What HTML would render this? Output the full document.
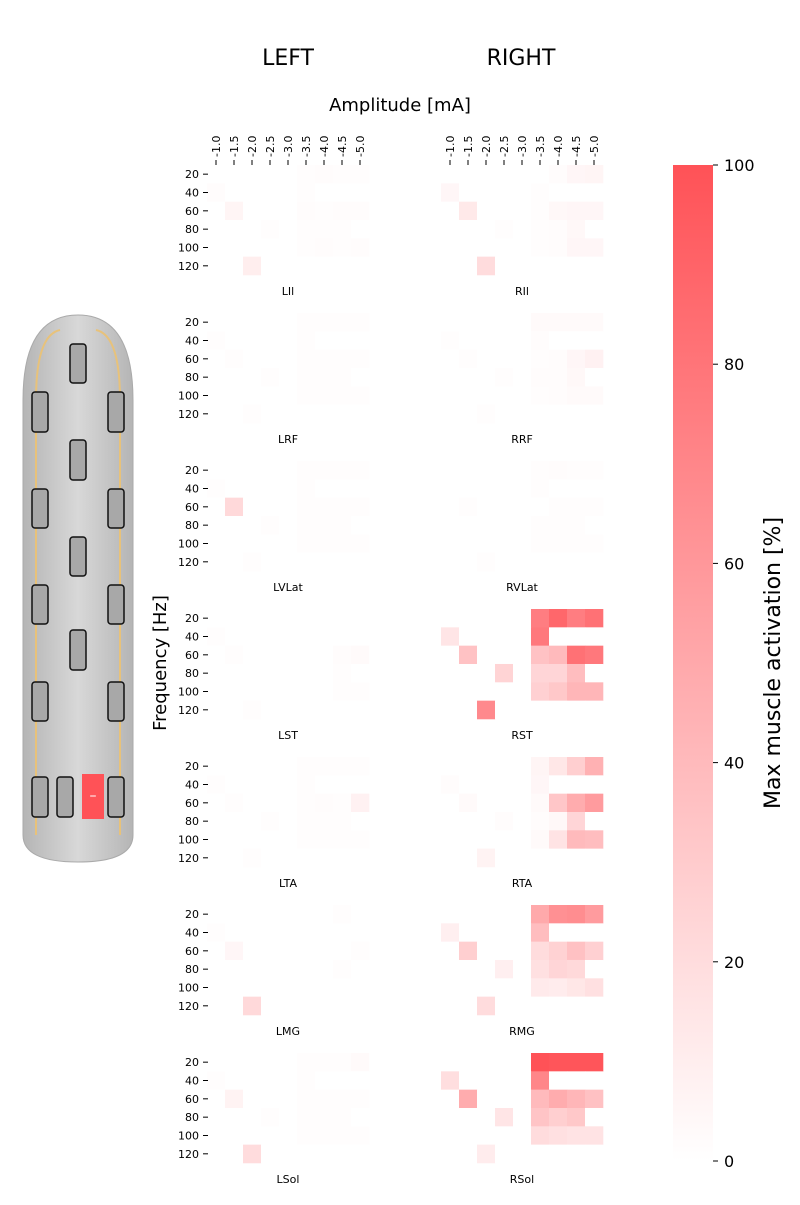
<!DOCTYPE html>
<html><head><meta charset="utf-8"><style>
body{margin:0;background:#fff;font-family:"Liberation Sans","DejaVu Sans",sans-serif;}
svg text{font-family:"DejaVu Sans","Liberation Sans",sans-serif;}
</style></head><body>
<svg id="fig" width="800" height="1200" viewBox="0 0 800 1200" xmlns="http://www.w3.org/2000/svg">
<defs>
<linearGradient id="cb" x1="0" y1="1" x2="0" y2="0"><stop offset="0" stop-color="#ffffff"/><stop offset="1" stop-color="#ff5257"/></linearGradient>
<linearGradient id="pad" x1="0" y1="0" x2="1" y2="0"><stop offset="0" stop-color="#b5b5b5"/><stop offset="0.5" stop-color="#d8d8d8"/><stop offset="1" stop-color="#b5b5b5"/></linearGradient>
</defs>
<text x="288" y="65" font-size="22" text-anchor="middle">LEFT</text>
<text x="521" y="65" font-size="22" text-anchor="middle">RIGHT</text>
<text x="400" y="111" font-size="18" text-anchor="middle">Amplitude [mA]</text>
<text transform="translate(166,663) rotate(-90)" font-size="18" text-anchor="middle">Frequency [Hz]</text>
<g id="electrode">
<path d="M23,400 Q23,315 78,315 Q133,315 133,400 L133,835 Q133,862 78,862 Q23,862 23,835 Z" fill="url(#pad)" stroke="#aaa"/>
<path d="M36,400 Q36,335 60,330 M120,400 Q120,335 96,330 M36,400 L36,835 M120,400 L120,835" stroke="#e8c27a" stroke-width="2" fill="none"/>
</g>
<g id="heatmaps"></g>
<g id="colorbar">
<rect x="673" y="165" width="40" height="996" fill="url(#cb)"/>
</g>
<text transform="translate(780,663) rotate(-90)" font-size="22" text-anchor="middle">Max muscle activation [%]</text>
</svg>
<script>
const amplitudes = ["-1.0","-1.5","-2.0","-2.5","-3.0","-3.5","-4.0","-4.5","-5.0"];
const frequencies = ["20","40","60","80","100","120"];
const colorbarTicks = [0,20,40,60,80,100];
const muscles = ["LIl","RIl","LRF","RRF","LVLat","RVLat","LST","RST","LTA","RTA","LMG","RMG","LSol","RSol"];
const LIl=[[0,0,0,0,0,1,2,1,1],[2,0,0,0,0,1,0,0,0],[0,6,0,0,0,2,1,2,2],[0,0,0,1,0,1,1,1,0],[0,0,0,0,0,1,2,1,2],[0,0,10,0,0,0,0,0,0]];
const RIl=[[0,0,0,0,0,0,2,5,6],[5,0,0,0,0,1,0,0,0],[0,13,0,0,0,1,4,5,5],[0,0,0,1,0,1,2,4,0],[0,0,0,0,0,1,2,5,5],[0,0,20,0,0,0,0,0,0]];
const LRF=[[0,0,0,0,0,1,1,1,1],[1,0,0,0,0,1,0,0,0],[0,1,0,0,0,1,1,1,1],[0,0,0,1,0,1,1,1,0],[0,0,0,0,0,1,1,1,1],[0,0,1,0,0,0,0,0,0]];
const RRF=[[0,0,0,0,0,3,3,3,3],[1,0,0,0,0,2,0,0,0],[0,1,0,0,0,1,2,5,8],[0,0,0,1,0,2,2,4,0],[0,0,0,0,0,1,2,3,3],[0,0,1,0,0,0,0,0,0]];
const LVLat=[[0,0,0,0,0,1,1,1,1],[1,0,0,0,0,1,0,0,0],[0,22,0,0,0,1,1,1,1],[0,0,0,1,0,1,1,1,0],[0,0,0,0,0,1,1,1,1],[0,0,1,0,0,0,0,0,0]];
const RVLat=[[0,0,0,0,0,1,2,1,1],[0,0,0,0,0,1,0,0,0],[0,1,0,0,0,0,1,1,1],[0,0,0,0,0,1,1,1,0],[0,0,0,0,0,1,1,1,1],[0,0,1,0,0,0,0,0,0]];
const LST=[[0,0,0,0,0,0,0,0,0],[1,0,0,0,0,0,0,0,0],[0,1,0,0,0,0,0,2,3],[0,0,0,0,0,0,0,1,0],[0,0,0,0,0,0,0,1,1],[0,0,1,0,0,0,0,0,0]];
const RST=[[0,0,0,0,0,75,88,75,82],[15,0,0,0,0,78,0,0,0],[0,35,0,0,0,35,40,82,78],[0,0,0,25,0,24,24,38,0],[0,0,0,0,0,27,32,42,42],[0,0,68,0,0,0,0,0,0]];
const LTA=[[0,0,0,0,0,1,1,1,1],[1,0,0,0,0,1,0,0,0],[0,1,0,0,0,1,2,1,8],[0,0,0,1,0,1,1,1,0],[0,0,0,0,0,1,1,1,1],[0,0,1,0,0,0,0,0,0]];
const RTA=[[0,0,0,0,0,6,14,28,45],[2,0,0,0,0,5,0,0,0],[0,3,0,0,0,3,33,48,58],[0,0,0,2,0,2,4,24,0],[0,0,0,0,0,3,16,40,38],[0,0,7,0,0,0,0,0,0]];
const LMG=[[0,0,0,0,0,0,0,1,0],[1,0,0,0,0,0,0,0,0],[0,5,0,0,0,0,0,0,1],[0,0,0,0,0,0,0,1,0],[0,0,0,0,0,0,0,0,0],[0,0,22,0,0,0,0,0,0]];
const RMG=[[0,0,0,0,0,50,64,66,58],[9,0,0,0,0,38,0,0,0],[0,28,0,0,0,20,26,36,27],[0,0,0,9,0,18,24,22,0],[0,0,0,0,0,12,11,14,18],[0,0,20,0,0,0,0,0,0]];
const LSol=[[0,0,0,0,0,1,1,1,3],[1,0,0,0,0,1,0,0,0],[0,7,0,0,0,1,1,1,1],[0,0,0,1,0,1,1,1,0],[0,0,0,0,0,1,1,1,1],[0,0,20,0,0,0,0,0,0]];
const RSol=[[0,0,0,0,0,100,98,98,98],[19,0,0,0,0,70,0,0,0],[0,48,0,0,0,40,48,42,36],[0,0,0,15,0,34,28,32,0],[0,0,0,0,0,20,18,16,16],[0,0,11,0,0,0,0,0,0]];
const dataSets=[LIl,RIl,LRF,RRF,LVLat,RVLat,LST,RST,LTA,RTA,LMG,RMG,LSol,RSol];

const NS="http://www.w3.org/2000/svg";
function mk(tag,attrs,parent){const e=document.createElementNS(NS,tag);for(const k in attrs)e.setAttribute(k,attrs[k]);parent.appendChild(e);return e;}
function color(v){const t=Math.max(0,Math.min(1,v/100));const r=255,g=Math.round(255-(255-82)*t),b=Math.round(255-(255-87)*t);return `rgb(${r},${g},${b})`;}
const cw=18, ch=18.33;
function xLeft(col){return col%2===0?207:441;}
function cellX(col,i){return xLeft(col)+i*cw;}
function cellY(row,j){return 165+row*148+j*ch;}
const root=document.getElementById('heatmaps');
dataSets.forEach((d,k)=>{
  const row=Math.floor(k/2), col=k%2;
  const g=mk('g',{},root);
  
  
  d.forEach((r,j)=>r.forEach((v,i)=>{
    const c=mk('rect',{x:cellX(col,i),y:cellY(row,j),width:cw+0.3,height:ch+0.3,fill:color(v)},g);
    
    
  }));
  const t=mk('text',{x:xLeft(col)+4.5*cw,y:165+row*148+130,'font-size':11,'text-anchor':'middle'},g);
  t.textContent=muscles[k];
  
  
  if(col===0){
    frequencies.forEach((f,j)=>{
      const y=cellY(row,j)+ch/2;
      mk('line',{x1:203,x2:208,y1:y,y2:y,stroke:'#000'},g);
      const tl=mk('text',{x:199,y:y+4,'font-size':11,'text-anchor':'end'},g);
      tl.textContent=f;
      
      
    });
  }
  if(row===0){
    amplitudes.forEach((a,i)=>{
      const x=cellX(col,i)+cw/2;
      mk('line',{x1:x,x2:x,y1:160,y2:165,stroke:'#000'},g);
      const tl=mk('text',{transform:`translate(${x+4},157) rotate(-90)`,'font-size':11},g);
      tl.textContent=a;
      
      
    });
  }
});
const cbg=document.getElementById('colorbar');
colorbarTicks.forEach(v=>{
  const y=1161-v/100*996;
  mk('line',{x1:713,x2:718,y1:y,y2:y,stroke:'#000'},cbg);
  const t=mk('text',{x:724,y:y+6,'font-size':16},cbg);
  t.textContent=v;
  
  
});
const eg=document.getElementById('electrode');
const contacts=[[70,344,16,39],[70,440,16,40],[70,537,16,39],[70,630,16,40],
[32,392,16,40],[108,392,16,40],[32,489,16,39],[108,489,16,39],[32,585,16,39],[108,585,16,39],
[32,682,16,39],[108,682,16,39],[32,777,16,40],[57,777,16,40],[108,777,16,40]];
contacts.forEach(c=>{
  const r=mk('rect',{x:c[0],y:c[1],width:c[2],height:c[3],rx:3,fill:'#a8a8a8',stroke:'#111','stroke-width':1.5},eg);
  
  
});
const cat=mk('rect',{x:82,y:774,width:22,height:45,fill:'#ff5257'},eg);


const ct=mk('text',{x:93,y:800,'font-size':14,'text-anchor':'middle',fill:'#fff'},eg);
ct.textContent='–';
</script>
</body></html>
